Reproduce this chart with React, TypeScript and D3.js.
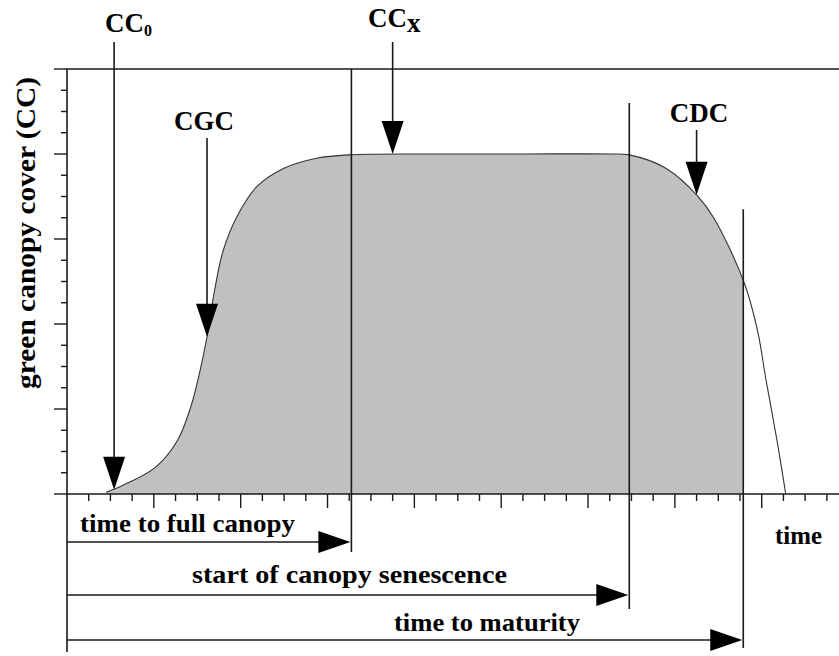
import React, { useEffect, useRef } from "react";
import * as d3 from "d3";

// ---- data ----
// time in tick units (one minor x tick = 1), canopy cover in % of the y axis
const curveTime = [1.8, 2.6, 4.1, 5.1, 5.7, 6.1, 6.45, 6.8, 7.2, 7.82, 8.74, 9.97, 11.5, 13.0, 17.0, 21.0, 25.0, 25.9, 27.6, 29.0, 29.8, 31.2, 31.8, 32.2, 32.7, 33.1];
const curveCC = [0.4, 2.1, 6.4, 12.7, 20.5, 28.4, 37.0, 48.0, 57.4, 65.2, 72.3, 76.6, 79.0, 79.8, 80.0, 80.0, 80.0, 79.8, 76.6, 70.4, 64.9, 49.6, 38.6, 26.8, 12.7, 0.2];

const milestoneLabels = ["time to full canopy", "start of canopy senescence", "time to maturity"];
const milestoneTimes = [13.1, 25.9, 31.15];
const milestoneTopCC = [100, 92, 67];

const annotationMain = ["CC", "CGC", "CC", "CDC"];
const annotationSub = ["0", "", "x", ""];
const annotationTimes = [2.17, 6.45, 15.0, 29.0];
const annotationCC = [1.0, 37.0, 80.0, 70.4];

const xTickValues = d3.range(1, 36);
const yTickValues = d3.range(0, 101, 5);
const yAxisTitle = "green canopy cover (CC)";
const xAxisTitle = "time";

// ---- layout ----
const W = 839;
const H = 656;
const INK = "#1a1a1a";
const SERIF_STACK = '"Liberation Serif", "Times New Roman", "Nimbus Roman", "FreeSerif", serif';

const milestoneLayout = [
  { lineBottom: 552, arrowY: 542, textX: 80, textY: 532, textW: 215 },
  { lineBottom: 609, arrowY: 595, textX: 192, textY: 583, textW: 315 },
  { lineBottom: 648, arrowY: 640, textX: 394, textY: 631, textW: 186 },
];
const annotationLayout = [
  { lineTop: 42, textX: 105, textY: 32, anchor: "start", subSize: 16, subDy: 4 },
  { lineTop: 138, textX: 204, textY: 130, anchor: "middle", subSize: 0, subDy: 0 },
  { lineTop: 42, textX: 368, textY: 27, anchor: "start", subSize: 27, subDy: 5 },
  { lineTop: 130, textX: 699, textY: 122, anchor: "middle", subSize: 0, subDy: 0 },
];

export default function App() {
  const svgRef = useRef<SVGSVGElement | null>(null);

  useEffect(() => {
    if (!svgRef.current) return;
    d3.select(svgRef.current)
      .selectAll<SVGElement, unknown>("text, tspan")
      .each(function () {
        this.style.setProperty("font-family", SERIF_STACK, "important");
        this.style.setProperty("font-weight", "700", "important");
      });
  }, []);

  const x = d3.scaleLinear().domain([0, 36]).range([67, 67 + 36 * 21.71]);
  const y = d3.scaleLinear().domain([0, 100]).range([494, 69]);

  const pts: [number, number][] = curveTime.map((t, i) => [t, curveCC[i]]);
  const curve = d3.curveCatmullRom.alpha(0.5);
  const line = d3
    .line<[number, number]>()
    .x((d) => x(d[0]))
    .y((d) => y(d[1]))
    .curve(curve);
  const area = d3
    .area<[number, number]>()
    .x((d) => x(d[0]))
    .y0(y(0))
    .y1((d) => y(d[1]))
    .curve(curve);

  const x0 = x(0);
  const yBase = y(0);
  const yTop = y(100);
  const maturityX = x(milestoneTimes[2]);
  const st = { fontFamily: SERIF_STACK, fontWeight: 700 };

  return (
    <svg
      id="cc-chart"
      ref={svgRef}
      width={W}
      height={H}
      style={{ position: "absolute", left: 0, top: 0, background: "#fff" }}
    >
      <style>{`#cc-chart text, #cc-chart tspan { font-family: ${SERIF_STACK} !important; font-weight: 700 !important; }`}</style>
      <defs>
        <clipPath id="fc">
          <rect x={0} y={0} width={maturityX} height={H} />
        </clipPath>
      </defs>
      <rect x={0} y={0} width={W} height={H} fill="#fff" />
      <path d={area(pts) || ""} fill="#c0c0c0" clipPath="url(#fc)" />

      {/* texts */}
      {milestoneLabels.map((lab, i) => (
        <text
          key={"mt" + i}
          x={milestoneLayout[i].textX}
          y={milestoneLayout[i].textY}
          fontSize={26}
          style={st}
          textLength={milestoneLayout[i].textW}
          lengthAdjust="spacingAndGlyphs"
        >
          {lab}
        </text>
      ))}
      {annotationMain.map((lab, i) => (
        <text
          key={"at" + i}
          x={annotationLayout[i].textX}
          y={annotationLayout[i].textY}
          fontSize={27}
          style={st}
          textAnchor={annotationLayout[i].anchor as any}
        >
          {lab}
          {annotationSub[i] ? (
            <tspan fontSize={annotationLayout[i].subSize} dy={annotationLayout[i].subDy}>
              {annotationSub[i]}
            </tspan>
          ) : null}
        </text>
      ))}
      <text x={775} y={544} fontSize={26} style={st} textLength={47} lengthAdjust="spacingAndGlyphs">
        {xAxisTitle}
      </text>
      <text
        transform="translate(35,233) rotate(-90)"
        textAnchor="middle"
        fontSize={27}
        style={st}
        textLength={312}
        lengthAdjust="spacingAndGlyphs"
      >
        {yAxisTitle}
      </text>

      {/* curve outline */}
      <path d={line(pts) || ""} fill="none" stroke="#333" strokeWidth={1.1} />

      {/* frame: top line, y axis, x axis */}
      <line x1={x0} x2={W} y1={yTop} y2={yTop} stroke={INK} strokeWidth={1.6} />
      <line x1={x0} x2={x0} y1={yTop} y2={652} stroke={INK} strokeWidth={1.6} />
      <line x1={x0} x2={W} y1={yBase} y2={yBase} stroke={INK} strokeWidth={1.6} />

      {yTickValues.map((v) => (
        <line
          key={"yt" + v}
          x1={x0 - (v % 20 === 0 ? 13 : 6)}
          x2={x0}
          y1={y(v)}
          y2={y(v)}
          stroke={INK}
          strokeWidth={1.4}
        />
      ))}
      {xTickValues.map((t) => (
        <line
          key={"xt" + t}
          x1={x(t)}
          x2={x(t)}
          y1={yBase}
          y2={yBase + (t % 4 === 0 ? 14 : 7)}
          stroke={INK}
          strokeWidth={1.4}
        />
      ))}

      {/* milestone vertical lines and arrows */}
      {milestoneTimes.map((t, i) => {
        const L = milestoneLayout[i];
        const mx = x(t);
        const tip = mx - 1;
        return (
          <g key={"ms" + i}>
            <line x1={mx} x2={mx} y1={y(milestoneTopCC[i])} y2={L.lineBottom} stroke={INK} strokeWidth={1.6} />
            <line x1={x0} x2={tip - 30} y1={L.arrowY} y2={L.arrowY} stroke={INK} strokeWidth={1.6} />
            <path d={`M${tip},${L.arrowY} L${tip - 32},${L.arrowY - 11} L${tip - 32},${L.arrowY + 11} Z`} fill="#000" />
          </g>
        );
      })}

      {/* annotation arrows */}
      {annotationTimes.map((t, i) => {
        const L = annotationLayout[i];
        const ax = x(t);
        const tipY = y(annotationCC[i]);
        return (
          <g key={"an" + i}>
            <line x1={ax} x2={ax} y1={L.lineTop} y2={tipY - 31} stroke={INK} strokeWidth={1.6} />
            <path d={`M${ax},${tipY} L${ax - 11},${tipY - 33} L${ax + 11},${tipY - 33} Z`} fill="#000" />
          </g>
        );
      })}
    </svg>
  );
}
